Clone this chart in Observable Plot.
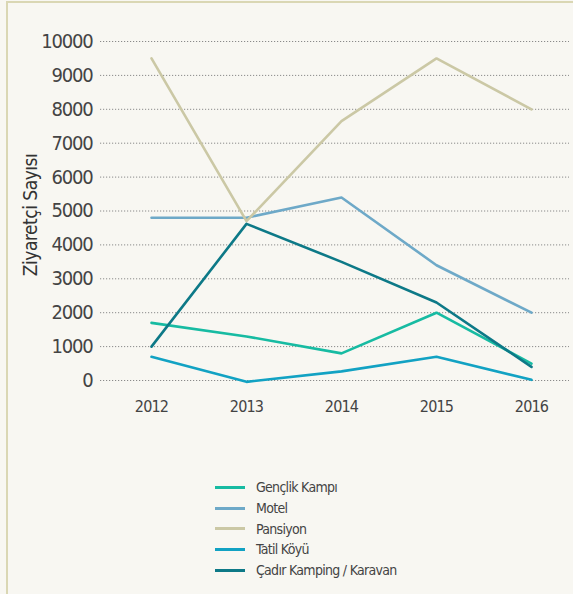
<!DOCTYPE html>
<html>
<head>
<meta charset="utf-8">
<script src="https://cdn.jsdelivr.net/npm/d3@7"></script>
<script src="https://cdn.jsdelivr.net/npm/@observablehq/plot@0.6"></script>
<style>
  html, body { margin: 0; padding: 0; background: #f8f7f2; }
  #wrap { position: relative; width: 573px; height: 594px; background: #f8f7f2; overflow: hidden;
    font-family: "Liberation Sans Narrow", "DejaVu Sans Condensed", sans-serif; }
  #frame { position: absolute; left: 6px; top: 1px; right: -4px; bottom: -4px;
    border-left: 2px solid #dad7b4; border-top: 2px solid #dad7b4; }
  #chart { position: absolute; left: 0; top: 0; }
  #legend { position: absolute; left: 215px; top: 477px; }
  .item { display: flex; align-items: center; height: 20.7px; font-size: 14px; letter-spacing: -0.7px; color: #444; }
  .swatch { width: 30px; height: 3px; margin-right: 11px; }
  #chart g[aria-label="y-axis tick label"] text { letter-spacing: -1.2px; }
  #chart g[aria-label="x-axis tick label"] text { letter-spacing: -0.8px; }
  #chart g[aria-label="text"] text { letter-spacing: -0.5px; }
</style>
</head>
<body>
<div id="wrap">
  <div id="frame"></div>
  <div id="chart"></div>
  <div id="legend"></div>
</div>
<script>
const years = ["2012", "2013", "2014", "2015", "2016"];
const seriesNames = ["Gençlik Kampı", "Motel", "Pansiyon", "Tatil Köyü", "Çadır Kamping / Karavan"];
const seriesColors = ["#17bba2", "#6ea9c8", "#cbc8a5", "#12a2c3", "#0d7987"];
const gencVals = [1700, 1300, 800, 2000, 500];
const motelVals = [4800, 4800, 5400, 3400, 2000];
const pansiyonVals = [9500, 4700, 7650, 9500, 8000];
const tatilVals = [700, -40, 270, 700, 20];
const cadirVals = [1000, 4620, 3500, 2300, 400];
const yTicks = [0, 1000, 2000, 3000, 4000, 5000, 6000, 7000, 8000, 9000, 10000];
const yTitle = "Ziyaretçi Sayısı";

const allVals = [gencVals, motelVals, pansiyonVals, tatilVals, cadirVals];
const data = [];
seriesNames.forEach((name, i) => {
  years.forEach((yr, j) => data.push({series: name, year: yr, value: allVals[i][j]}));
});

const chart = Plot.plot({
  width: 573,
  height: 430,
  marginTop: 41,
  marginBottom: 50,
  marginLeft: 100,
  marginRight: 4,
  style: { background: "transparent", fontFamily: "'Liberation Sans Narrow', 'DejaVu Sans Condensed', sans-serif", color: "#444" },
  x: { type: "point", domain: years, range: [150, 531], padding: 0 },
  y: { domain: [0, 10000] },
  color: { domain: seriesNames, range: seriesColors },
  marks: [
    Plot.ruleY(yTicks, { stroke: "#8a8a8a", strokeDasharray: "1.2,1.8", strokeWidth: 1 }),
    Plot.axisY(yTicks, { tickSize: 0, tickPadding: 8, fontSize: 20, label: null, tickFormat: d => String(d), fill: "#444" }),
    Plot.axisX({ tickSize: 0, tickPadding: 20, fontSize: 16, label: null, fill: "#444" }),
    Plot.text([yTitle], { frameAnchor: "left", textAnchor: "middle", dx: -70, dy: 4, rotate: -90, fontSize: 19, fill: "#333" }),
    Plot.line(data, { x: "year", y: "value", z: "series", stroke: "series", strokeWidth: 2.6 })
  ]
});
document.getElementById("chart").appendChild(chart);

const legend = document.getElementById("legend");
seriesNames.forEach((name, i) => {
  const row = document.createElement("div");
  row.className = "item";
  const sw = document.createElement("div");
  sw.className = "swatch";
  sw.style.background = seriesColors[i];
  const lab = document.createElement("span");
  lab.textContent = name;
  row.appendChild(sw);
  row.appendChild(lab);
  legend.appendChild(row);
});
</script>
</body>
</html>
